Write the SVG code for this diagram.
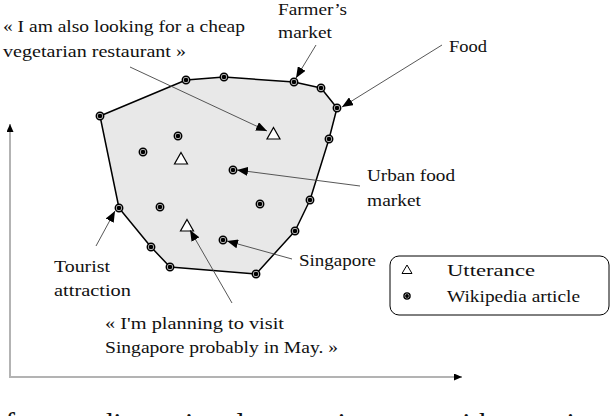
<svg xmlns="http://www.w3.org/2000/svg" width="612" height="416" viewBox="0 0 612 416">
<style>
text{font-family:"Liberation Serif","Times New Roman",serif;font-size:17px;fill:#111}
.hull{fill:#e8e8e8;stroke:#000;stroke-width:1.5;stroke-linejoin:round}
.dot-o{fill:#ddd;stroke:#000;stroke-width:1.5}
.dot-i{fill:#000}
.tri{fill:#fff;stroke:#000;stroke-width:1.2;stroke-linejoin:miter}
.conn{stroke:#444;stroke-width:0.9;fill:none;marker-end:url(#ah)}
.axis{stroke:#b3b3b3;stroke-width:2;fill:none}
</style>
<defs>
<marker id="ah" markerWidth="12" markerHeight="9" refX="11" refY="4.5" orient="auto" markerUnits="userSpaceOnUse"><path d="M0,0 L11,4.5 L0,9 z" fill="#000"/></marker>
<marker id="axh" markerWidth="9" markerHeight="7" refX="8" refY="3.5" orient="auto" markerUnits="userSpaceOnUse"><path d="M0,0 L8,3.5 L0,7 z" fill="#000"/></marker>
<g id="dot"><circle r="3.7" class="dot-o"/><circle r="2.3" class="dot-i"/></g>
<path id="tr" d="M0,-6.5 L6.5,5 L-6.5,5 Z" class="tri"/>
</defs>

<g id="axes">
<polyline class="axis" points="10,128 10,377 455,377"/>
<line x1="10" y1="132" x2="10" y2="124" stroke="#b3b3b3" stroke-width="2" marker-end="url(#axh)"/>
<line x1="452" y1="377" x2="462" y2="377" stroke="#b3b3b3" stroke-width="2" marker-end="url(#axh)"/>
</g>

<g id="cluster">
<polygon class="hull" points="100,116 186,80 224,77 294,82 321,88 337,108 329,139 310,200 295,231 256,274 170,267 151,247 119,208"/>
<g id="hull-dots">
<use href="#dot" x="100" y="116"/><use href="#dot" x="186" y="80"/><use href="#dot" x="224" y="77"/>
<use href="#dot" x="294" y="82"/><use href="#dot" x="321" y="88"/><use href="#dot" x="337" y="108"/>
<use href="#dot" x="329" y="139"/><use href="#dot" x="310" y="200"/><use href="#dot" x="295" y="231"/>
<use href="#dot" x="256" y="274"/><use href="#dot" x="170" y="267"/><use href="#dot" x="151" y="247"/>
<use href="#dot" x="119" y="208"/>
</g>
<g id="inner-dots">
<use href="#dot" x="178" y="136"/><use href="#dot" x="143" y="152"/><use href="#dot" x="233" y="170"/>
<use href="#dot" x="160" y="207"/><use href="#dot" x="260" y="204"/><use href="#dot" x="223" y="240"/>
</g>
<g id="utterances">
<use href="#tr" x="273.5" y="134"/><use href="#tr" x="181" y="159"/><use href="#tr" x="187" y="226"/>
</g>
</g>

<g id="connectors">
<line class="conn" x1="130" y1="67" x2="267" y2="131"/>
<line class="conn" x1="316" y1="45" x2="296" y2="78"/>
<line class="conn" x1="442" y1="45" x2="342" y2="107"/>
<line class="conn" x1="360" y1="186" x2="237" y2="170"/>
<line class="conn" x1="292" y1="259" x2="227" y2="241"/>
<line class="conn" x1="96" y1="246" x2="115" y2="211"/>
<line class="conn" x1="232" y1="303" x2="190" y2="230"/>
</g>

<g id="label-veg">
<text x="3" y="32" textLength="242" lengthAdjust="spacingAndGlyphs">« I am also looking for a cheap</text>
<text x="3" y="57" textLength="183" lengthAdjust="spacingAndGlyphs">vegetarian restaurant »</text>
</g>
<g id="label-farmers">
<text x="278" y="14.5" textLength="69" lengthAdjust="spacingAndGlyphs">Farmer’s</text>
<text x="278" y="38" textLength="54" lengthAdjust="spacingAndGlyphs">market</text>
</g>
<g id="label-food"><text x="449" y="52" textLength="38" lengthAdjust="spacingAndGlyphs">Food</text></g>
<g id="label-urban">
<text x="367" y="181" textLength="88" lengthAdjust="spacingAndGlyphs">Urban food</text>
<text x="367" y="206" textLength="54" lengthAdjust="spacingAndGlyphs">market</text>
</g>
<g id="label-singapore"><text x="299" y="266" textLength="77" lengthAdjust="spacingAndGlyphs">Singapore</text></g>
<g id="label-tourist">
<text x="54" y="272" textLength="56" lengthAdjust="spacingAndGlyphs">Tourist</text>
<text x="54" y="296" textLength="77" lengthAdjust="spacingAndGlyphs">attraction</text>
</g>
<g id="label-may">
<text x="105" y="329" textLength="179" lengthAdjust="spacingAndGlyphs">« I'm planning to visit</text>
<text x="105" y="353" textLength="233" lengthAdjust="spacingAndGlyphs">Singapore probably in May. »</text>
</g>

<g id="legend">
<rect x="390" y="256" width="219" height="59" rx="9" ry="9" fill="#fff" stroke="#000" stroke-width="1"/>
<path d="M407,265 L412,273.5 L402,273.5 Z" fill="#fff" stroke="#000" stroke-width="1"/>
<circle cx="407" cy="296" r="3.1" fill="#ddd" stroke="#000" stroke-width="1.3"/>
<circle cx="407" cy="296" r="1.9" fill="#000"/>
<text x="447" y="276" textLength="88" lengthAdjust="spacingAndGlyphs">Utterance</text>
<text x="447" y="302" textLength="133" lengthAdjust="spacingAndGlyphs">Wikipedia article</text>
</g>

<g id="caption-fragment">
<text x="-10" y="433" style="font-size:30px">of a two-dimensional semantic space with associated</text>
</g>
</svg>
